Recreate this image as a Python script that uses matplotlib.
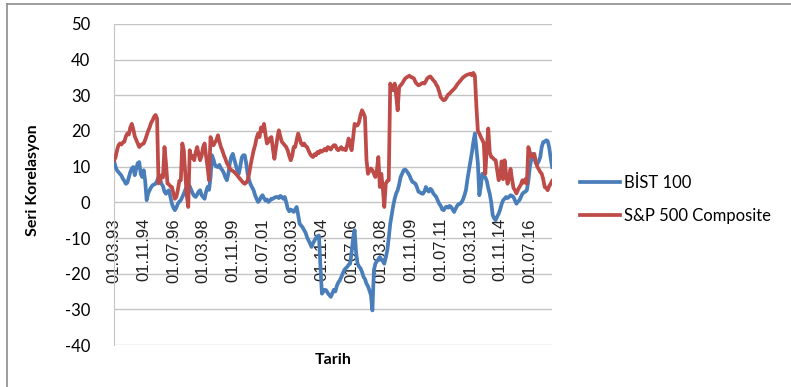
import matplotlib
matplotlib.use("Agg")
import matplotlib.pyplot as plt
from matplotlib.lines import Line2D
import pandas as pd

# Monthly series starting 01.03.1993
bist100 = [
    11.8, 10, 9, 8.5, 8, 7.5, 6.6, 6, 5.2, 5.5, 7, 8.5, 9.5, 9.9, 7.6, 9.5, 11, 11.3, 8, 7.1,
    9, 6, 0.6, 2.5, 3.4, 4.2, 4.8, 5, 5.2, 6, 7.1, 6.5, 5.2, 4.5, 3, 2.4, 3, 3.4, 1.5, -0.4,
    -1.5, -2.2, -1.5, -0.4, 0.2, 0.6, 1.5, 2.4, 3.5, 4.5, 5.2, 4.5, 3.5, 2.5, 1.8, 1.5, 2.2, 3, 3.4, 2,
    1.5, 1, 3, 4.3, 3.5, 7, 13.2, 12, 10.5, 10, 9.9, 10.5, 9.5, 9, 8.2, 7, 6.2, 8, 11, 12.8,
    13.6, 12, 10.5, 9, 8, 10, 12.5, 13.2, 13.2, 11, 8, 6.2, 5, 4.2, 3.4, 2, 1, 0.1, 0.6, 1.5,
    2, 1.2, 0.5, 0.8, 0.1, 0.5, 1, 1, 1.3, 1.5, 1.5, 1.2, 1.8, 1.5, 1, 1.5, 0, -1.8, -2.5, -2,
    -2.3, -2.7, -2, -1.3, -3.5, -6, -6.5, -7, -7.8, -8.5, -9.8, -10.7, -11.5, -12.5, -11.5, -10.7, -10, -9.5, -9.3, -18,
    -25.6, -25, -24.5, -24.7, -25.5, -26, -26.5, -25.5, -24.5, -25, -23.5, -22.5, -21.9, -21, -20, -19, -18.5, -18.1, -17.5, -17.2,
    -14, -10, -7.8, -14, -17.2, -18, -18.5, -19.5, -20.9, -21.5, -22.8, -23.5, -24.7, -26, -30.3, -19, -17.2, -16.5, -16, -15.3,
    -16, -16.5, -17.2, -15.5, -13.5, -10, -6, -3.5, -1, 1, 2.5, 3.4, 5, 7.1, 8, 9, 9.2, 8.8, 8.2, 7.5,
    6.5, 5.7, 5.5, 5.2, 4.2, 3, 2.8, 2.5, 2.4, 3, 4.3, 3.5, 3, 3.8, 3.4, 2.5, 2, 1.5, 0.5, -0.4,
    -1, -2, -2.2, -1.5, -1.2, -1.5, -1, -1.3, -2, -2.7, -1.8, -1, -0.5, -0.4, 0, 0.8, 2, 3.5, 6.5, 9,
    11.5, 14, 17, 19.3, 15, 11, 2, 4.5, 8, 7.5, 7, 6, 4, 2.4, 0, -3.6, -4.5, -5, -4, -3.2,
    -2, -0.5, 0.6, 1, 1.5, 1.2, 1.5, 2, 1.8, 1.5, 0.5, -0.4, 0.2, 0.6, 1.5, 2.4, 2.8, 3, 3.4, 6,
    9.9, 12, 13.6, 12.5, 11, 10.8, 11.5, 12.7, 15.5, 16.9, 17, 17.4, 17.2, 15.5, 12.5, 9.9,
]

sp500 = [
    11.8, 12.5, 14.5, 16, 16.5, 16.2, 16.8, 17, 18.5, 19.3, 19, 21, 22, 20.5, 18.5, 17.5, 16.5, 15.5, 16, 16.3,
    16.5, 17.5, 18.8, 20, 21, 22.3, 23, 24, 24.5, 23.5, 5.3, 6, 7.5, 7, 15.5, 11, 5.3, 5, 4.5, 4.3,
    2.5, 1, 1.5, 3.5, 6, 6.2, 16.5, 14.6, 8, 2, -1.3, 14.6, 12.5, 13, 11.8, 14, 15.5, 13.5, 11.8, 13,
    15.5, 16.5, 13, 9.9, 6.2, 18.3, 17, 16, 16.8, 17.5, 18.8, 17, 15.5, 14.5, 13.2, 12.2, 11, 10.3, 9.5, 9,
    8.8, 8.5, 8, 7.6, 7, 6.5, 6, 5.5, 5.2, 5.5, 6.2, 8, 10.5, 12.5, 14.5, 16, 18, 19.3, 18.3, 21,
    20, 22, 19, 16.5, 17, 18, 18.3, 15, 12.2, 15, 18, 20.2, 18.5, 17, 16.5, 16, 15.5, 14.5, 13, 11.8,
    13, 15.5, 15.5, 17.5, 19.3, 18, 16.5, 16, 16.5, 15.8, 15.5, 14.5, 13.6, 13, 12.7, 13.5, 13.2, 14.1, 13.8, 14.5,
    14.2, 14.6, 15, 14.5, 15.5, 15.2, 14.8, 15.5, 16, 16, 15, 14.6, 15, 15.5, 14.8, 15, 14.6, 16, 17.9, 16,
    14.6, 18, 22, 21.5, 21.6, 22.5, 24.5, 25.8, 25, 23.9, 12, 8, 8.8, 9.5, 9, 8, 7.1, 9, 12.7, 4.3,
    8, 4, -1.3, 5.2, 6, 6.2, 33.3, 32, 31.4, 33.3, 30, 25.8, 32.3, 32.8, 33.3, 34, 34.7, 35, 35.3, 35.5,
    35.1, 35, 34.7, 33.7, 33.2, 32.8, 33, 33.3, 33.5, 33.3, 34, 34.8, 35.1, 35.3, 34.8, 34.2, 33.8, 33, 32.3, 31,
    29.5, 29, 28.6, 28.8, 29.5, 30.2, 30.5, 31, 31.4, 31.8, 32.3, 33, 33.5, 34, 34.5, 35, 35.3, 35.6, 35.8, 35.9,
    36.1, 35.6, 36.3, 35.5, 27, 20, 19.3, 18.3, 17.5, 16.5, 8, 15, 20.7, 14, 12.7, 12.5, 12, 11.8, 9, 6.2,
    7, 11.5, 6.5, 11.8, 8, 5.2, 7, 9.4, 6.5, 4, 3.4, 2.5, 3.5, 4.3, 5, 6.2, 5.5, 6.5, 5.2, 15.5,
    14, 12.7, 13, 13.6, 11.5, 10, 9.3, 8.5, 8, 6.5, 4.3, 4, 3.4, 4.5, 5.2, 6,
]

series_names = ["BİST 100", "S&P 500 Composite"]
series_colors = ["#4a7ebb", "#be4b48"]
dates = pd.date_range("1993-03-01", periods=len(bist100), freq="MS")
date_labels = [d.strftime("%d.%m.%y") for d in dates]
label_step = 20
y_ticks = list(range(-40, 51, 10))

fig = plt.figure(figsize=(7.91, 3.87), dpi=100)
ax = fig.add_axes([0.1441, 0.1085, 0.5539, 0.8295])

x = list(range(len(bist100)))
ax.plot(x, bist100, color=series_colors[0], lw=2.7, solid_joinstyle="round", zorder=3)
ax.plot(x, sp500, color=series_colors[1], lw=2.7, solid_joinstyle="round", zorder=3)

ax.set_xlim(0, len(x) - 1)
ax.set_ylim(-40, 50)
ax.set_yticks(y_ticks)
ax.set_yticklabels([str(v) for v in y_ticks], fontfamily="Lato", fontsize=12)
ax.grid(axis="y", color="#c4c4c4", lw=1)
ax.set_axisbelow(True)
for s in ["top", "right", "bottom"]:
    ax.spines[s].set_visible(False)
ax.spines["left"].set_color("#c4c4c4")
ax.tick_params(axis="y", length=0, pad=17)
ax.tick_params(axis="x", length=0)
ax.set_xticks([])

# category labels along the zero line
for i in range(0, len(x), label_step):
    ax.text(i, -4.4, date_labels[i], rotation=90, ha="center", va="top",
            fontfamily="Liberation Sans", fontsize=12, color="#222222", zorder=2)

fig.text(0.042, 0.535, "Seri Korelasyon", rotation=90, ha="center", va="center",
         fontfamily="Lato", fontweight="bold", fontsize=11.5)
fig.text(0.421, 0.07, "Tarih", ha="center", va="center",
         fontfamily="Lato", fontweight="bold", fontsize=11.5)

handles = [Line2D([0], [0], color=c, lw=2.7) for c in series_colors]
leg = fig.legend(handles, series_names, loc="upper left", bbox_to_anchor=(0.733, 0.549),
                 frameon=False, prop={"family": "Lato", "size": 12},
                 handlelength=2.4, handletextpad=0.25, labelspacing=1.05,
                 borderaxespad=0, borderpad=0)

# outer chart border (top and left visible)
fig.add_artist(Line2D([7 / 791, 7 / 791], [0, 1 - 4 / 387], color="#8c8c8c", lw=1.2,
                      transform=fig.transFigure))
fig.add_artist(Line2D([7 / 791, 1], [1 - 4 / 387, 1 - 4 / 387], color="#8c8c8c", lw=1.2,
                      transform=fig.transFigure))

fig.savefig("out.png", dpi=100)
